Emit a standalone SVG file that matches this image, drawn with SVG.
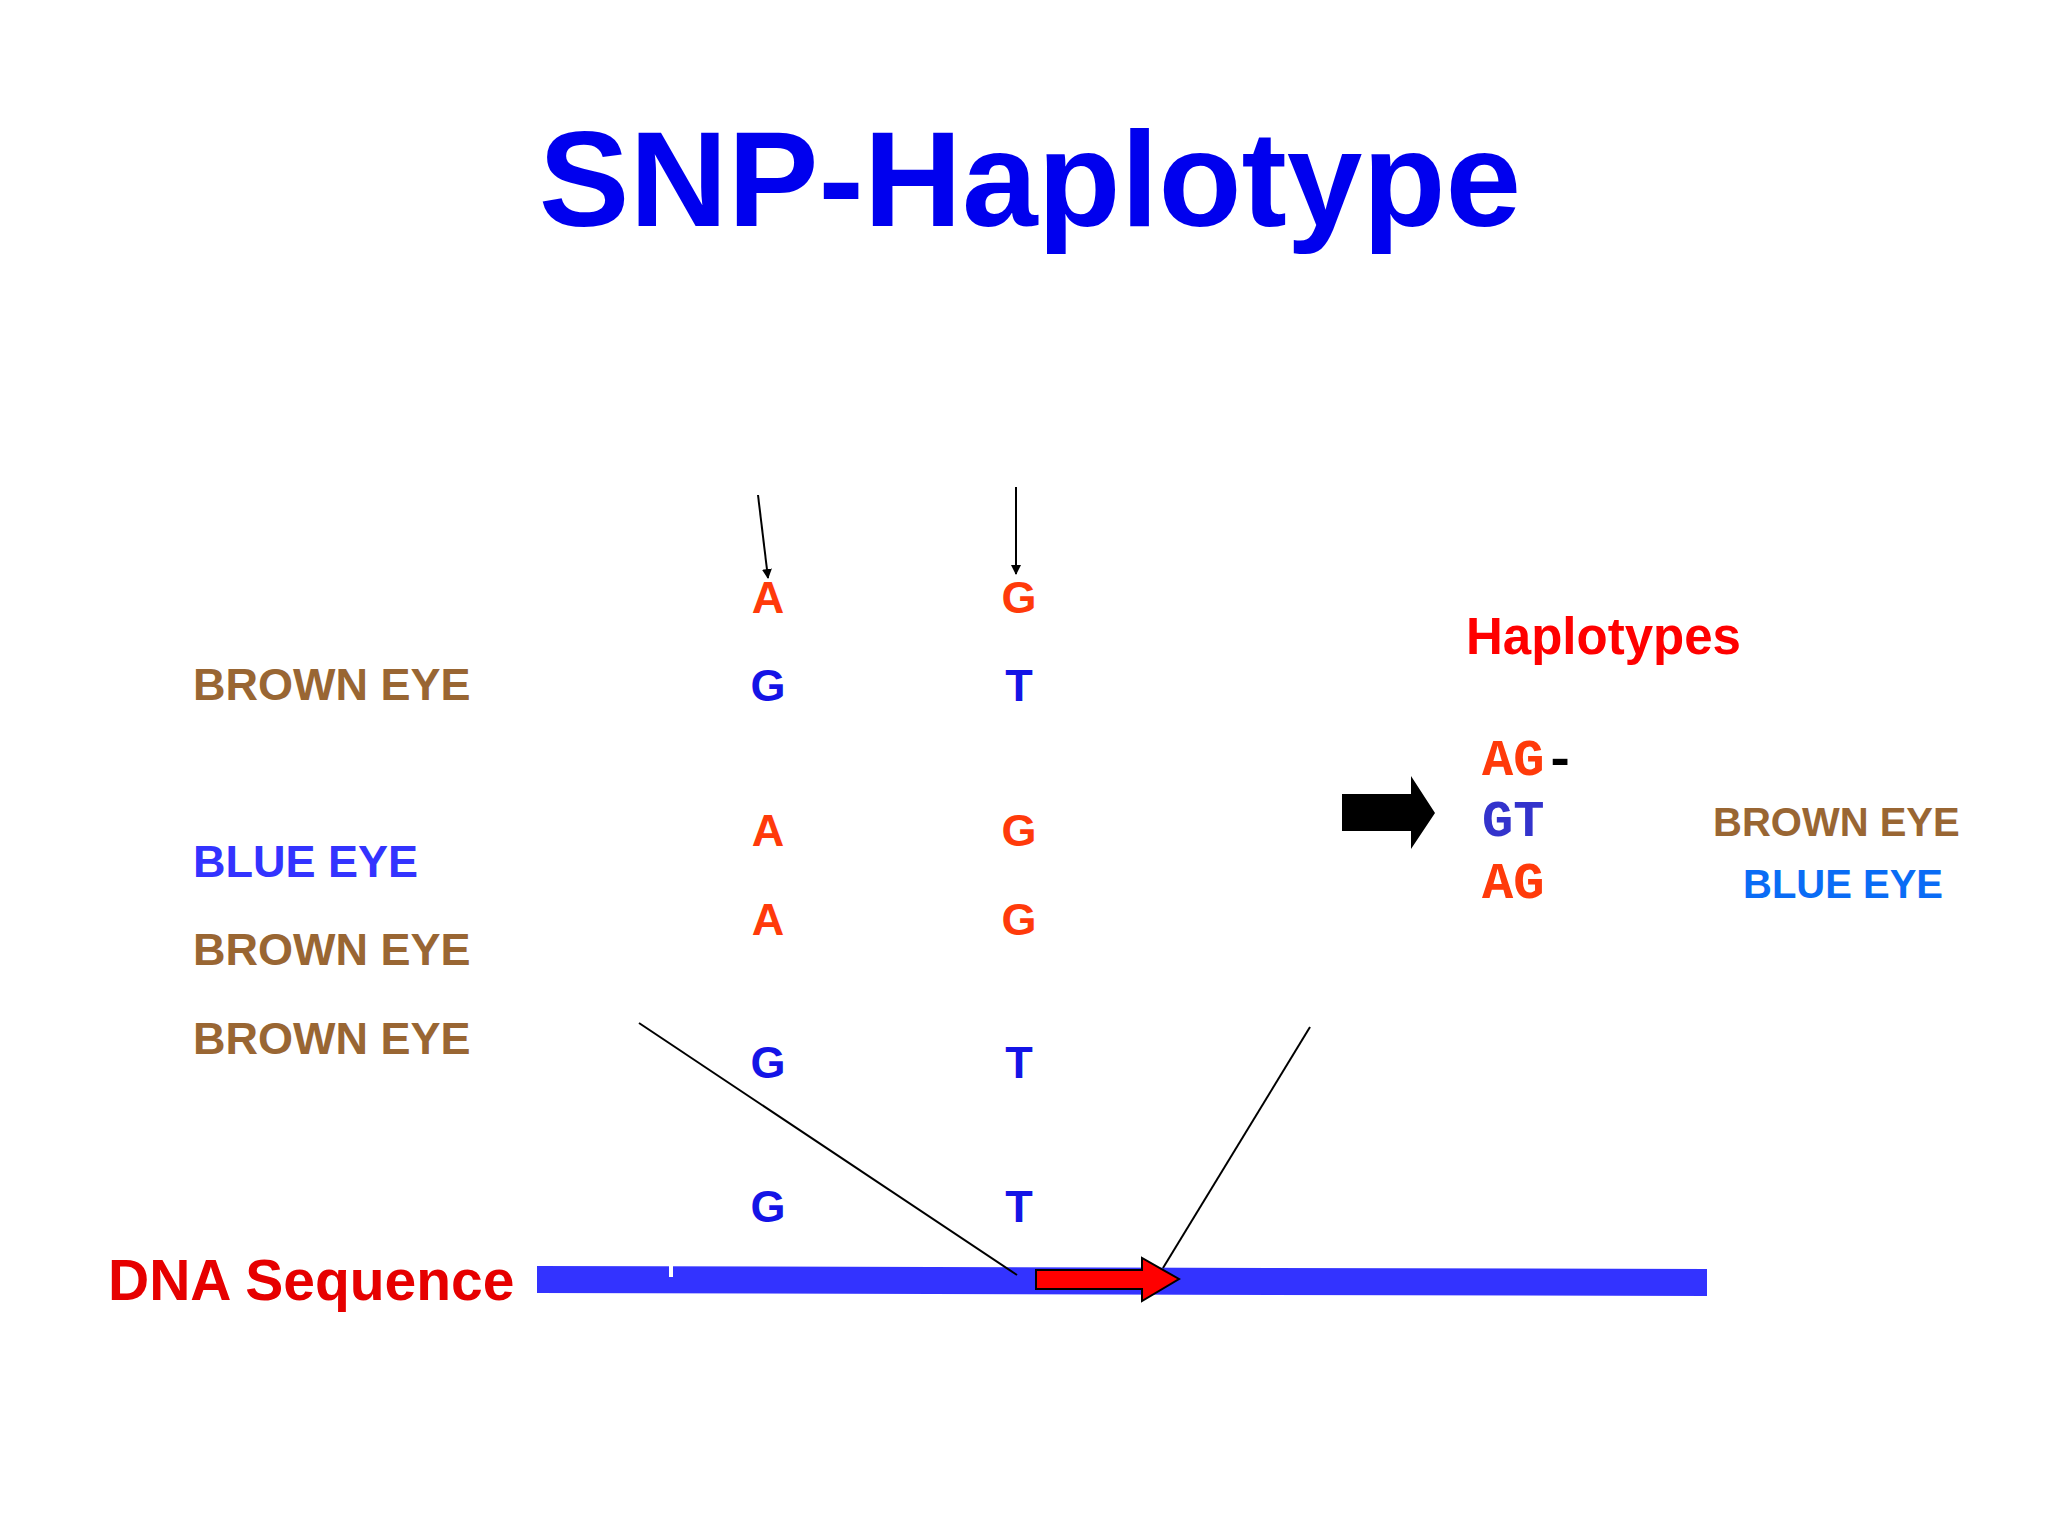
<svg xmlns="http://www.w3.org/2000/svg" width="2048" height="1536" viewBox="0 0 2048 1536">
<defs>
<style>
text{font-family:"Liberation Sans",Arial,sans-serif;font-weight:bold}
.b{fill:#996633;font-size:45px}
.o{fill:#ff3a0a;font-size:45px;text-anchor:middle}
.u{fill:#1414e6;font-size:45px;text-anchor:middle}
.m{font-family:"Liberation Mono","Courier New",monospace;font-size:52px}
</style>
<marker id="ah" markerWidth="10" markerHeight="10" refX="9" refY="5" orient="auto" markerUnits="userSpaceOnUse" viewBox="0 0 10 10"><path d="M0,0L10,5L0,10z" fill="#000"/></marker>
</defs>
<rect width="2048" height="1536" fill="#fff"/>
<g id="title"><text x="1030" y="226" font-size="136" fill="#0000ee" text-anchor="middle">SNP-Haplotype</text></g>
<g id="labels">
<text class="b" x="193" y="700">BROWN EYE</text>
<text x="193" y="877" font-size="45" fill="#3333ff">BLUE EYE</text>
<text class="b" x="193" y="965">BROWN EYE</text>
<text class="b" x="193" y="1054">BROWN EYE</text>
</g>
<g id="snps">
<text class="o" x="768" y="613">A</text><text class="o" x="1019" y="613">G</text>
<text class="u" x="768" y="701">G</text><text class="u" x="1019" y="701">T</text>
<text class="o" x="768" y="846">A</text><text class="o" x="1019" y="846">G</text>
<text class="o" x="768" y="935">A</text><text class="o" x="1019" y="935">G</text>
<text class="u" x="768" y="1078">G</text><text class="u" x="1019" y="1078">T</text>
<text class="u" x="768" y="1222">G</text><text class="u" x="1019" y="1222">T</text>
</g>
<g id="haplotypes">
<text x="1466" y="654" font-size="51" fill="#ff0000">Haplotypes</text>
<text class="m" x="1482" y="775" fill="#ff3a0a">AG<tspan fill="#000">-</tspan></text>
<text class="m" x="1482" y="836" fill="#3333cc">GT</text>
<text class="m" x="1482" y="898" fill="#ff3a0a">AG</text>
<text x="1713" y="836" font-size="40" fill="#996633">BROWN EYE</text>
<text x="1743" y="898" font-size="40" fill="#0a6cf5">BLUE EYE</text>
<polygon points="1342,794 1411,794 1411,776 1435,813 1411,849 1411,831 1342,831" fill="#000"/>
</g>
<g id="dna">
<text x="108" y="1300" font-size="57" fill="#e60000">DNA Sequence</text>
<polygon points="537,1266 1707,1269 1707,1296 537,1293" fill="#3333ff"/>
<rect x="669" y="1263" width="4" height="14" fill="#fff"/>
<polygon points="1036,1270 1142,1270 1142,1258 1179,1279 1142,1301 1142,1289 1036,1289" fill="#ff0000" stroke="#000" stroke-width="2"/>
</g>
<g id="connectors" stroke="#000" stroke-width="2" fill="none">
<line x1="758" y1="495" x2="768" y2="578" marker-end="url(#ah)"/>
<line x1="1016" y1="487" x2="1016" y2="574" marker-end="url(#ah)"/>
<line x1="639" y1="1023" x2="1017" y2="1275"/>
<line x1="1310" y1="1027" x2="1163" y2="1268"/>
</g>
</svg>
